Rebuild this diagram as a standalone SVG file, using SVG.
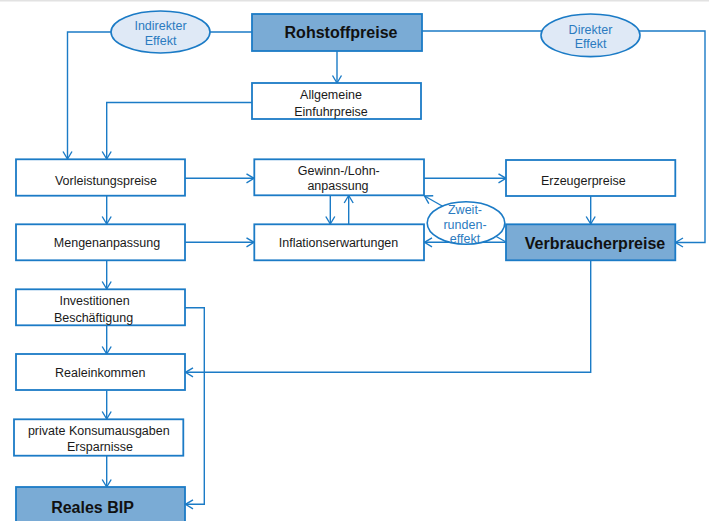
<svg xmlns="http://www.w3.org/2000/svg" width="709" height="521" viewBox="0 0 709 521">
<defs>
<marker id="arr" markerUnits="userSpaceOnUse" markerWidth="12" markerHeight="12" viewBox="-10 -6 12 12" refX="0" refY="0" orient="auto">
<path d="M-7.5,-4.5 L0,0 L-7.5,4.5" fill="none" stroke="#1b7bc6" stroke-width="1.4"/>
</marker>
</defs>
<style>
.box{fill:#ffffff;stroke:#1b7bc6;stroke-width:1.8}
.hbox{fill:#7aabd5;stroke:#1b7bc6;stroke-width:1.8}
.ell{fill:#dfe9f6;stroke:#1b7bc6;stroke-width:1.6}
.ellw{fill:#ffffff;stroke:#1b7bc6;stroke-width:1.6}
.t{font-family:"Liberation Sans",Arial,sans-serif;font-size:12.5px;fill:#1a1a1a;text-anchor:middle}
.b{font-family:"Liberation Sans",Arial,sans-serif;font-size:16px;font-weight:bold;fill:#111111;text-anchor:middle}
.e{font-family:"Liberation Sans",Arial,sans-serif;font-size:12.5px;fill:#2b7bc0;text-anchor:middle}
.c{fill:none;stroke:#1b7bc6;stroke-width:1.4}
</style>
<rect x="0" y="0" width="709" height="521" fill="#ffffff"/>
<rect x="0" y="0" width="709" height="1.5" fill="#e2e2e2"/>
<g id="connectors">
<path class="c" d="M252,32 H67.5 V159" marker-end="url(#arr)"/>
<path class="c" d="M422,31 H705 V242.5 H675.5" marker-end="url(#arr)"/>
<path class="c" d="M337,51 V83" marker-end="url(#arr)"/>
<path class="c" d="M252,102.5 H106.7 V159" marker-end="url(#arr)"/>
<path class="c" d="M185,178.3 H254" marker-end="url(#arr)"/>
<path class="c" d="M424,178.3 H506" marker-end="url(#arr)"/>
<path class="c" d="M106.7,196 V224" marker-end="url(#arr)"/>
<path class="c" d="M185,242.3 H254" marker-end="url(#arr)"/>
<path class="c" d="M330.3,195.5 V224" marker-end="url(#arr)"/>
<path class="c" d="M348.7,224 V195.5" marker-end="url(#arr)"/>
<path class="c" d="M590.7,196 V224" marker-end="url(#arr)"/>
<path class="c" d="M506,242.3 H424.5" marker-end="url(#arr)"/>
<path class="c" d="M506,242 L424.5,196" marker-end="url(#arr)"/>
<path class="c" d="M106.7,260.5 V289" marker-end="url(#arr)"/>
<path class="c" d="M106.7,325.5 V354" marker-end="url(#arr)"/>
<path class="c" d="M106.7,390.5 V419" marker-end="url(#arr)"/>
<path class="c" d="M106.7,455.5 V487" marker-end="url(#arr)"/>
<path class="c" d="M185,307.7 H204.3 V504.3 H185.5" marker-end="url(#arr)"/>
<path class="c" d="M590.7,260.5 V372.3 H185.5" marker-end="url(#arr)"/>
</g>
<g id="indirekter-effekt">
<ellipse class="ell" cx="160.5" cy="32" rx="49.5" ry="21"/>
<text class="e" x="160.5" y="30">Indirekter</text>
<text class="e" x="160.5" y="45">Effekt</text>
</g>
<g id="direkter-effekt">
<ellipse class="ell" cx="590.5" cy="35.3" rx="49.5" ry="21.3"/>
<text class="e" x="590.5" y="33.5">Direkter</text>
<text class="e" x="590.5" y="48">Effekt</text>
</g>
<g id="rohstoffpreise">
<rect class="hbox" x="252" y="14" width="170" height="37"/>
<text class="b" x="341" y="38">Rohstoffpreise</text>
</g>
<g id="einfuhrpreise">
<rect class="box" x="252" y="83" width="169" height="36"/>
<text class="t" x="331" y="98.5">Allgemeine</text>
<text class="t" x="331" y="116">Einfuhrpreise</text>
</g>
<g id="vorleistungspreise">
<rect class="box" x="16" y="159.3" width="169" height="36.4"/>
<text class="t" x="106" y="184.5">Vorleistungspreise</text>
</g>
<g id="gewinn-lohn">
<rect class="box" x="254.3" y="159.3" width="169.7" height="36"/>
<text class="t" x="338.8" y="175">Gewinn-/Lohn-</text>
<text class="t" x="338" y="190">anpassung</text>
</g>
<g id="erzeugerpreise">
<rect class="box" x="506" y="160" width="169.3" height="36"/>
<text class="t" x="583.3" y="184.5">Erzeugerpreise</text>
</g>
<g id="mengenanpassung">
<rect class="box" x="16" y="224.3" width="169" height="36"/>
<text class="t" x="107" y="247">Mengenanpassung</text>
</g>
<g id="inflationserwartungen">
<rect class="box" x="254.3" y="224.3" width="169.7" height="36"/>
<text class="t" x="338.5" y="247">Inflationserwartungen</text>
</g>
<g id="verbraucherpreise">
<rect class="hbox" x="506" y="224.3" width="169.3" height="36"/>
<text class="b" x="595" y="248.5">Verbraucherpreise</text>
</g>
<g id="zweitrundeneffekt">
<ellipse class="ellw" cx="466" cy="223" rx="38.8" ry="21.2"/>
<text class="e" x="465" y="213.5">Zweit-</text>
<text class="e" x="465" y="228.5">runden-</text>
<text class="e" x="465" y="243">effekt</text>
</g>
<g id="investitionen">
<rect class="box" x="16" y="289.3" width="169" height="36"/>
<text class="t" x="94.5" y="304.5">Investitionen</text>
<text class="t" x="93.5" y="321.5">Beschäftigung</text>
</g>
<g id="realeinkommen">
<rect class="box" x="16" y="354" width="169" height="36"/>
<text class="t" x="100.2" y="377">Realeinkommen</text>
</g>
<g id="konsumausgaben">
<rect class="box" x="14" y="419.3" width="169.3" height="36.4"/>
<text class="t" x="98.8" y="434.5">private Konsumausgaben</text>
<text class="t" x="100" y="451">Ersparnisse</text>
</g>
<g id="reales-bip">
<rect class="hbox" x="16" y="487" width="169" height="40"/>
<text class="b" x="92.5" y="512.5">Reales BIP</text>
</g>
</svg>
